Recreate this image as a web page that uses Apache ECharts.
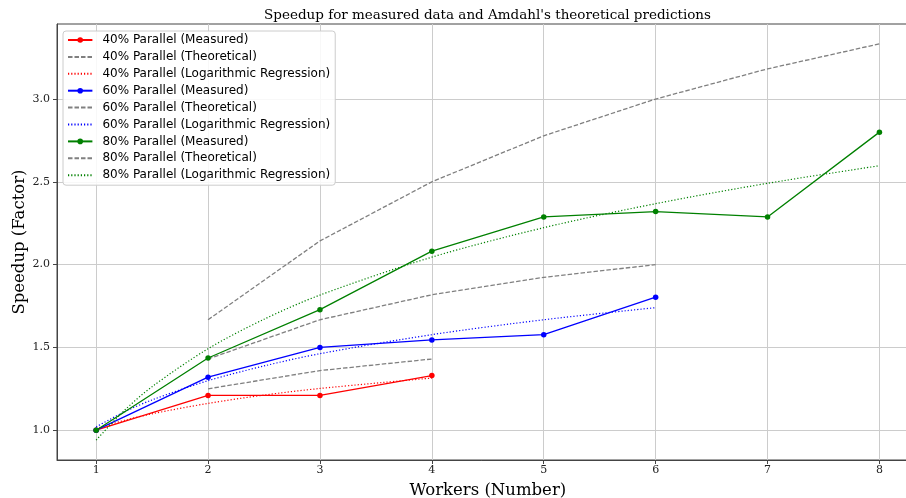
<!DOCTYPE html>
<html>
<head>
<meta charset="utf-8">
<script src="https://cdn.jsdelivr.net/npm/echarts@6/dist/echarts.min.js"></script>
<style>html,body{margin:0;padding:0;background:#fff}#c{width:906px;height:498px}</style>
</head>
<body>
<div id="c"></div>
<script>
const workers = [1, 2, 3, 4, 5, 6, 7, 8];
const xTicks = [1, 2, 3, 4, 5, 6, 7, 8];
const yTicks = [1.0, 1.5, 2.0, 2.5, 3.0];

const measured40 = [1.00, 1.21, 1.21, 1.33];
const theoretical40 = [null, 1.25, 1.36, 1.43];
const measured60 = [1.00, 1.32, 1.50, 1.545, 1.577, 1.803];
const theoretical60 = [null, 1.43, 1.667, 1.818, 1.923, 2.00];
const measured80 = [1.00, 1.436, 1.728, 2.081, 2.288, 2.32, 2.288, 2.80];
const theoretical80 = [null, 1.667, 2.143, 2.50, 2.778, 3.00, 3.182, 3.333];

const regX = [1, 1.25, 1.5, 2, 2.5, 3, 4, 5, 6, 7, 8];
const regression40 = [1.01, 1.059, 1.099, 1.162, 1.212, 1.252, 1.315];
const regression60 = [1.02, 1.110, 1.183, 1.299, 1.388, 1.462, 1.577, 1.667, 1.740];
const regression80 = [0.94, 1.118, 1.263, 1.492, 1.670, 1.816, 2.045, 2.223, 2.368, 2.491, 2.597];

const names = ['40% Parallel', '60% Parallel', '80% Parallel'];
const colors = ['#ff0000', '#0000ff', '#008000'];
const measuredSets = [measured40, measured60, measured80];
const theoSets = [theoretical40, theoretical60, theoretical80];
const regSets = [regression40, regression60, regression80];

const titleText = "Speedup for measured data and Amdahl's theoretical predictions";
const xName = 'Workers (Number)';
const yName = 'Speedup (Factor)';

function pairs(xs, ys) {
  const out = [];
  ys.forEach((v, i) => { if (v !== null && v !== undefined) out.push([xs[i], v]); });
  return out;
}

const series = [];
const legendData = [];
for (let k = 0; k < 3; k++) {
  const mName = names[k] + ' (Measured)';
  const tName = names[k] + ' (Theoretical)';
  const rName = names[k] + ' (Logarithmic Regression)';
  series.push({
    name: mName, type: 'line', data: pairs(workers, measuredSets[k]),
    symbol: 'circle', symbolSize: 5.5, showSymbol: true,
    lineStyle: { color: colors[k], width: 1.3 }, itemStyle: { color: colors[k] },
    emphasis: { disabled: true }, animation: false, z: 2 + k * 3
  });
  series.push({
    name: tName, type: 'line', data: pairs(workers, theoSets[k]),
    symbol: 'none', lineStyle: { color: '#808080', width: 1.3, type: [4.5, 2] },
    itemStyle: { color: '#808080' },
    emphasis: { disabled: true }, animation: false, z: 3 + k * 3
  });
  series.push({
    name: rName, type: 'line', data: pairs(regX, regSets[k]),
    symbol: 'none', smooth: 0.3, lineStyle: { color: colors[k], width: 1.2, type: [1.2, 2] },
    itemStyle: { color: colors[k] },
    emphasis: { disabled: true }, animation: false, z: 4 + k * 3
  });
  legendData.push({ name: mName });
  legendData.push({ name: tName, itemStyle: { opacity: 0 } });
  legendData.push({ name: rName, itemStyle: { opacity: 0 } });
}

const serif = 'DejaVu Serif';
const sans = 'DejaVu Sans';

const chart = echarts.init(document.getElementById('c'), null, { renderer: 'canvas' });
chart.setOption({
  animation: false,
  backgroundColor: '#ffffff',
  graphic: [
    { type: 'text', x: 487.5, y: 15, z: 20,
      style: { text: titleText, fontFamily: serif, fontSize: 13.5, fill: '#000', align: 'center', verticalAlign: 'middle' } },
    { type: 'text', x: 20, y: 242, rotation: Math.PI / 2, z: 20,
      style: { text: yName, fontFamily: serif, fontSize: 16.5, fill: '#000', align: 'center', verticalAlign: 'middle' } }
  ],
  grid: { left: 57, width: 861.6, top: 24, height: 436, show: true, borderColor: '#444', borderWidth: 1,
          containLabel: false, outerBoundsMode: 'none' },
  legend: {
    orient: 'vertical', left: 63, top: 31,
    padding: [2, 5, 3, 4], itemGap: 2.9, itemWidth: 24.4, itemHeight: 7,
    backgroundColor: 'rgba(255,255,255,0.85)', borderColor: '#cccccc', borderWidth: 1, borderRadius: 3,
    textStyle: { fontFamily: sans, fontSize: 12, lineHeight: 14, color: '#000', padding: [0, 0, 0, 5] },
    data: legendData, z: 10
  },
  xAxis: {
    type: 'value', min: 0.65, max: 8.35, splitNumber: 8,
    name: xName, nameLocation: 'middle', nameGap: 22,
    nameTextStyle: { fontFamily: serif, fontSize: 16.5, color: '#000' },
    axisLine: { show: true, onZero: false, lineStyle: { color: '#444', width: 1 } },
    axisTick: { show: true, length: 4, lineStyle: { color: '#444' }, customValues: xTicks },
    axisLabel: { fontFamily: serif, fontSize: 11, color: '#222', margin: 5, customValues: xTicks, formatter: v => String(v) },
    splitLine: { show: true, lineStyle: { color: '#cccccc', width: 1 } }
  },
  yAxis: {
    type: 'value', min: 0.82, max: 3.453, splitNumber: 5,
    axisLine: { show: true, onZero: false, lineStyle: { color: '#444', width: 1 } },
    axisTick: { show: true, length: 4, lineStyle: { color: '#444' }, customValues: yTicks },
    axisLabel: { fontFamily: serif, fontSize: 11, color: '#222', margin: 7, customValues: yTicks, formatter: v => v.toFixed(1) },
    splitLine: { show: true, lineStyle: { color: '#cccccc', width: 1 } }
  },
  series: series
});
</script>
</body>
</html>
